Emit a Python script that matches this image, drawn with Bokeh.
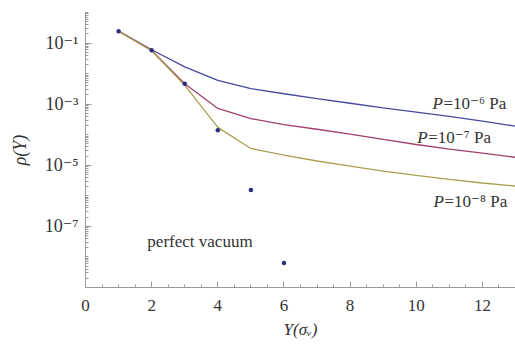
from bokeh.plotting import figure
from bokeh.models import (Label, SingleIntervalTicker, FixedTicker, CustomJSTickFormatter,
                          Range1d)
from bokeh.embed import file_html
from bokeh.resources import INLINE

# ---- data ----
Y = [1, 2, 3, 4, 5, 6, 7, 8, 9, 10, 11, 12, 13]
rho_p6 = [0.245, 0.0603, 0.0166, 0.00603, 0.00324, 0.00219, 0.00151, 0.00107,
          0.000759, 0.000550, 0.000400, 0.000280, 0.000191]
rho_p7 = [0.245, 0.0575, 0.00468, 0.000724, 0.000339, 0.000214, 0.000151, 0.000105,
          7.08e-5, 4.79e-5, 3.39e-5, 2.51e-5, 1.82e-5]
rho_p8 = [0.245, 0.0562, 0.00417, 0.000174, 3.55e-5, 2.14e-5, 1.38e-5, 9.33e-6,
          6.46e-6, 4.68e-6, 3.47e-6, 2.63e-6, 2.09e-6]
Y_vac = [1, 2, 3, 4, 5, 6]
rho_vac = [0.245, 0.058, 0.0047, 0.00014, 1.55e-6, 6.3e-9]
y_major = [1e-1, 1e-3, 1e-5, 1e-7]

SERIF = "'Liberation Serif', 'DejaVu Serif', serif"
AX = "#9a9a9a"
TXT = "#333333"

p = figure(width=515, height=347, output_backend="svg", toolbar_location=None,
           y_axis_type="log",
           x_range=Range1d(0, 13.0), y_range=Range1d(1e-9, 1.0),
           min_border_left=85, min_border_right=0, min_border_top=12,
           min_border_bottom=60)
p.outline_line_color = None
p.grid.grid_line_color = None
p.background_fill_color = "white"

blue = "#4848a0"
red = "#a0406e"
olive = "#a8a050"

p.line(Y, rho_p6, line_color=blue, line_width=1.3)
p.line(Y, rho_p7, line_color=red, line_width=1.3)
p.line(Y, rho_p8, line_color=olive, line_width=1.3)
p.scatter(Y_vac, rho_vac, size=4.5, fill_color="#2a2a80", line_color=None)

# x axis
xa = p.xaxis[0]
xa.ticker = SingleIntervalTicker(interval=2, num_minor_ticks=4)
xa.axis_line_color = AX
xa.major_tick_line_color = AX
xa.minor_tick_line_color = AX
xa.major_tick_in = 6
xa.major_tick_out = 0
xa.minor_tick_in = 3
xa.minor_tick_out = 0
xa.major_label_standoff = 12
xa.major_label_text_font = SERIF
xa.major_label_text_font_size = "17px"
xa.major_label_text_color = TXT
xa.axis_label = "Y(σᵥ)"
xa.axis_label_text_font = SERIF
xa.axis_label_text_font_style = "italic"
xa.axis_label_text_font_size = "17px"
xa.axis_label_text_color = TXT
xa.axis_label_standoff = 6

# y axis
minor = [m * 10.0 ** k for k in range(-9, 1) for m in range(1, 10)]
ya = p.yaxis[0]
ya.ticker = FixedTicker(ticks=y_major, minor_ticks=minor)
ya.formatter = CustomJSTickFormatter(code="""
const sup = {"-":"\u207b","0":"\u2070","1":"\u00b9","2":"\u00b2","3":"\u00b3","4":"\u2074",
             "5":"\u2075","6":"\u2076","7":"\u2077","8":"\u2078","9":"\u2079"};
const e = Math.round(Math.log10(tick));
return "10" + String(e).split("").map(c => sup[c]).join("");
""")
ya.axis_line_color = AX
ya.major_tick_line_color = AX
ya.minor_tick_line_color = AX
ya.major_tick_in = 6
ya.major_tick_out = 0
ya.minor_tick_in = 3
ya.minor_tick_out = 0
ya.major_label_standoff = 7
ya.major_label_text_font = SERIF
ya.major_label_text_font_size = "18px"
ya.major_label_text_color = TXT
ya.axis_label = "ρ(Y)"
ya.axis_label_text_font = SERIF
ya.axis_label_text_font_style = "italic"
ya.axis_label_text_font_size = "18px"
ya.axis_label_text_color = TXT
ya.axis_label_standoff = 12


def plabel(x, y, rest):
    p.add_layout(Label(x=x, y=y, text="P", text_font=SERIF, text_font_style="italic",
                       text_font_size="17px", text_color=TXT, text_baseline="middle"))
    p.add_layout(Label(x=x, y=y, x_offset=11, text=rest, text_font=SERIF,
                       text_font_size="17px", text_color=TXT, text_baseline="middle"))


plabel(10.49, 10 ** -2.97, "=10⁻⁶ Pa")
plabel(10.03, 10 ** -4.08, "=10⁻⁷ Pa")
plabel(10.52, 10 ** -6.17, "=10⁻⁸ Pa")
p.add_layout(Label(x=1.87, y=10 ** -7.48, text="perfect vacuum", text_font=SERIF,
                   text_font_size="17px", text_color=TXT, text_baseline="middle"))

open("out.html", "w").write(file_html(p, INLINE))
